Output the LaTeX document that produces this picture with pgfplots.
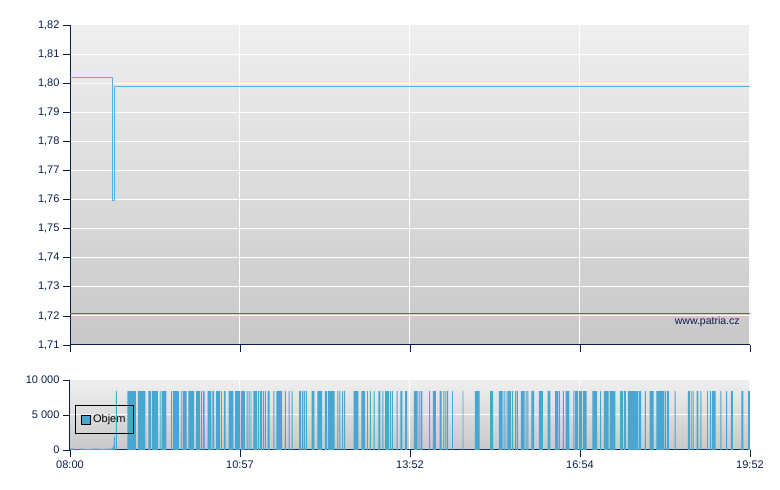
\documentclass[border=0pt]{standalone}
\usepackage{pgfplots}
\pgfplotsset{compat=1.18}
\usepackage{fontspec}
\setmainfont{Liberation Sans}
\definecolor{navy}{HTML}{0A1E4B}
\definecolor{linec}{HTML}{5AB0DC}
\definecolor{barc}{HTML}{47A7D0}
\definecolor{redl}{HTML}{B04848}
\definecolor{bgtop}{HTML}{EFEFEF}
\definecolor{bgbot}{HTML}{C8C8C8}
\pgfplotsset{
  patria/.style={
    scale only axis, width=680pt, anchor=south west,
    axis x line*=bottom, axis y line*=left,
    axis line style={-, draw=navy, line width=1pt},
    tick align=outside, major tick length=7pt,
    tick style={draw=navy, line width=0.8pt},
    xmajorgrids, ymajorgrids, grid style={white, line width=1pt},
    axis background/.style={shade, top color=bgtop, bottom color=bgbot},
    xmin=0, xmax=712, xtick={0,178,356,534,712},
    ticklabel style={font=\fontsize{11}{13}\selectfont, text=navy},
    /pgf/number format/assume math mode=true,
    scaled ticks=false,
  }
}
\begin{document}
\begin{tikzpicture}
\useasboundingbox (0,0) rectangle (780pt,490pt);
% price panel
\begin{axis}[patria, at={(70pt,145pt)}, height=320pt,
  ymin=1.71, ymax=1.82,
  ytick={1.71,1.72,1.73,1.74,1.75,1.76,1.77,1.78,1.79,1.80,1.81,1.82},
  yticklabels={{1,71},{1,72},{1,73},{1,74},{1,75},{1,76},{1,77},{1,78},{1,79},{1,80},{1,81},{1,82}},
  xticklabels={},
]
\addplot[redl, line width=1pt] coordinates {(0,1.7209) (712,1.7209)};
\addplot[const plot, linec, line width=1pt] coordinates {(0,1.802) (44,1.7595) (47,1.799) (712,1.799)};
\node[anchor=south east, text=navy, font=\fontsize{10.5}{12}\selectfont] at (rel axis cs:0.99,0.045) {www.patria.cz};
\end{axis}
% volume panel
\begin{axis}[patria, at={(70pt,40pt)}, height=70pt,
  ymin=0, ymax=10000, ytick={0,5000,10000},
  yticklabels={0,5 000,10 000},
  xticklabels={08:00,10:57,13:52,16:54,19:52},
  legend style={at={(0.0074,0.643)}, anchor=north west, draw=black, fill=none,
    line width=0.8pt, inner xsep=6pt, inner ysep=7.5pt, font=\fontsize{11}{13}\selectfont},
  legend cell align=left,
]
\addplot[const plot, fill=barc, draw=none,
  legend image code/.code={\draw[fill=barc,draw=black,line width=0.7pt] (0pt,-4.5pt) rectangle (9pt,4.5pt);}]
coordinates {
(0,200) (4,100) (10,200) (14,120) (22,200) (30,150) (38,200) (44,300) (45,600) (46,1900) (47,0) (48,8400) (49,0)
(60,8400) (69,0) (71,8400) (79,0) (82,8400) (85,0) (86,8400) (92,0) (94,8400) (95,0) (96,8400) (101,0)
(106,8400) (107,0) (108,8400) (114,0) (116,8400) (117,0) (118,8400) (122,0) (124,8400) (130,0)
(132,8400) (136,0) (137,8400) (138,0) (139,8400) (141,0) (144,8400) (148,0) (149,8400) (151,0)
(153,8400) (157,0) (158,8400) (159,0) (161,8400) (163,0) (166,8400) (171,0) (173,8400) (178,0)
(179,8400) (183,0) (185,8400) (186,0) (187,8400) (188,0) (189,8400) (190,0) (192,8400) (196,0)
(197,8400) (198,0) (199,8400) (201,0) (202,8400) (203,0) (204,8400) (205,0) (207,8400) (209,0)
(213,8400) (214,0) (216,8400) (222,0) (225,8400) (226,0) (229,8400) (230,0) (232,8400) (233,0)
(240,8400) (242,0) (243,8400) (244,0) (245,8400) (246,0) (247,8400) (248,0) (253,8400) (256,0)
(259,8400) (264,0) (267,8400) (269,0) (270,8400) (277,0) (280,8400) (281,0) (282,8400) (283,0)
(285,8400) (286,0) (287,8400) (288,0) (297,8400) (302,0) (305,8400) (309,0) (311,8400) (312,0)
(314,8400) (315,0) (318,8400) (319,0) (323,8400) (325,0) (327,8400) (328,0) (330,8400) (334,0)
(335,8400) (336,0) (337,8400) (338,0) (342,8400) (343,0) (346,8400) (348,0) (351,8400) (353,0)
(360,8400) (364,0) (365,8400) (366,0) (367,8400) (369,0) (376,8400) (377,0) (380,8400) (383,0)
(387,8400) (389,0) (391,8400) (392,0) (393,8400) (394,0) (395,8400) (396,0) (400,8400) (401,0)
(411,8400) (412,0) (424,8400) (429,0) (440,8400) (443,0) (449,8400) (453,0) (454,8400) (455,0)
(456,8400) (457,0) (458,8400) (462,0) (463,8400) (464,0) (466,8400) (467,0) (468,8400) (469,0)
(472,8400) (476,0) (477,8400) (478,0) (479,8400) (480,0) (483,8400) (486,0) (491,8400) (495,0)
(500,8400) (503,0) (508,8400) (511,0) (512,8400) (513,0) (516,8400) (517,0) (519,8400) (523,0)
(527,8400) (528,0) (529,8400) (532,0) (533,8400) (536,0) (537,8400) (541,0) (547,8400) (552,0)
(555,8400) (556,0) (559,8400) (564,0) (565,8400) (571,0) (576,8400) (579,0) (580,8400) (582,0)
(584,8400) (595,0) (596,8400) (598,0) (602,8400) (603,0) (607,8400) (611,0) (614,8400) (622,0)
(623,8400) (624,0) (625,8400) (627,0) (633,8400) (634,0) (647,8400) (649,0) (650,8400) (651,0)
(652,8400) (653,0) (656,8400) (658,0) (660,8400) (661,0) (667,8400) (668,0) (670,8400) (671,0)
(672,8400) (676,0) (681,8400) (682,0) (687,8400) (688,0) (692,8400) (694,0) (703,8400) (705,0)
(710,8400) (712,0)
} \closedcycle;
\addlegendentry{Objem}
\end{axis}
\end{tikzpicture}
\end{document}
